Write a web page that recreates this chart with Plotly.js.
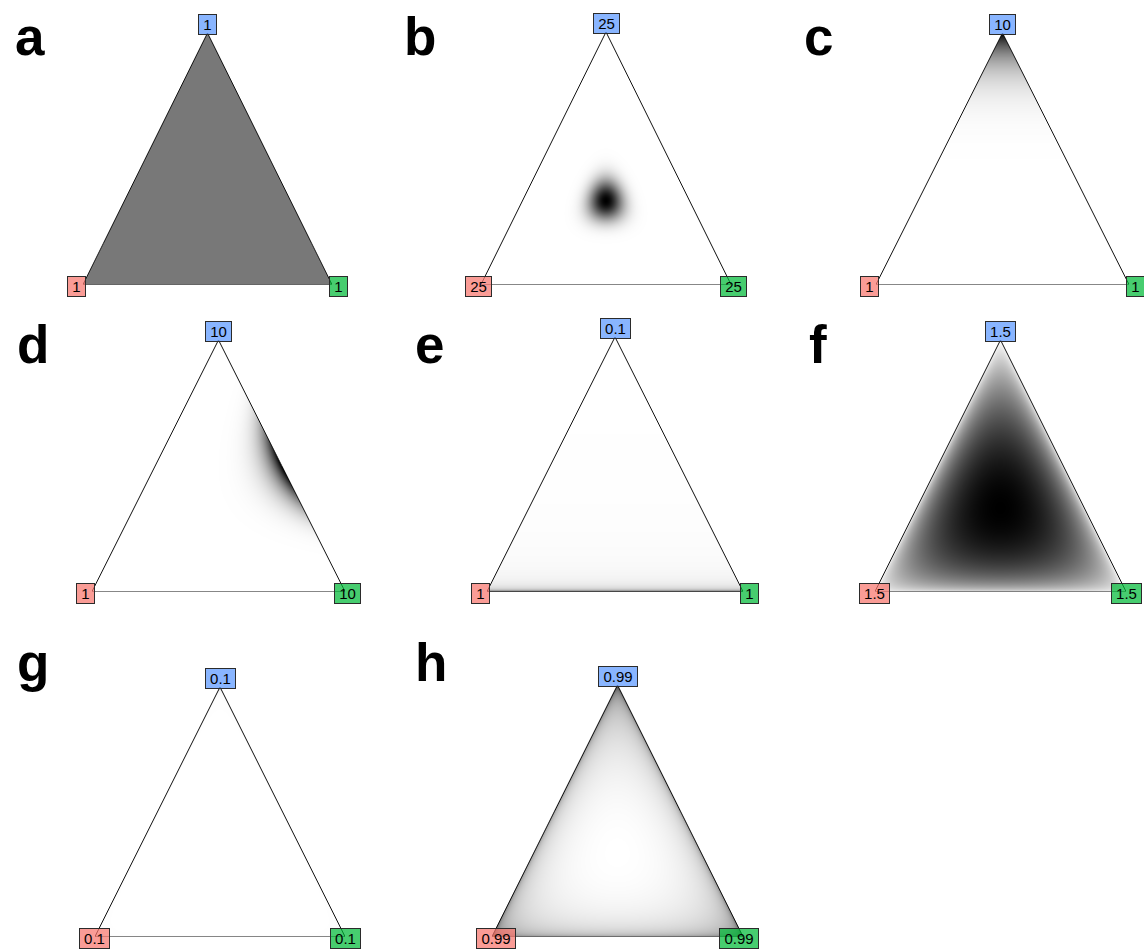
<!DOCTYPE html>
<html>
<head>
<meta charset="utf-8">
<script src="https://cdn.plot.ly/plotly-3.0.1.min.js"></script>
<style>
  html, body { margin: 0; padding: 0; background: #ffffff; }
  #chart { width: 1144px; height: 949px; }
</style>
</head>
<body>
<div id="chart"></div>
<script>
// Dirichlet densities on the 3-simplex, one panel per parameter set.
const panelLetters = ['a', 'b', 'c', 'd', 'e', 'f', 'g', 'h'];
const alphaLeft  = [1, 25, 1, 1, 1, 1.5, 0.1, 0.99];
const alphaRight = [1, 25, 1, 10, 1, 1.5, 0.1, 0.99];
const alphaTop   = [1, 25, 10, 10, 0.1, 1.5, 0.1, 0.99];

// Page geometry of each triangle (pixels): left/right vertex x, base y, apex y.
const W = 1144, H = 949;
const frames = [
  { l: 83,  r: 332,  b: 284.5, t: 33 },
  { l: 481, r: 731,  b: 284.5, t: 32 },
  { l: 876, r: 1129, b: 284.5, t: 33 },
  { l: 92,  r: 345,  b: 591.5, t: 340 },
  { l: 487, r: 743,  b: 591.5, t: 337 },
  { l: 875, r: 1126, b: 591.5, t: 340 },
  { l: 95,  r: 345,  b: 936.5, t: 687 },
  { l: 492, r: 743,  b: 936.5, t: 685 }
];
// Panel letter anchor points (pixels).
const letterPos = [
  [30, 37], [420, 37], [818, 37],
  [33, 344], [429, 344], [818, 344],
  [33, 662], [431, 662]
];

const LABEL_FONT = 'Liberation Sans, Arial, sans-serif';
const RED = 'rgba(248,118,109,0.72)';
const GREEN = 'rgba(0,186,56,0.72)';
const BLUE = 'rgba(97,156,255,0.75)';

// Log-gamma via Lanczos approximation.
function lgamma(z) {
  const g = 7;
  const c = [0.99999999999980993, 676.5203681218851, -1259.1392167224028,
    771.32342877765313, -176.61502916214059, 12.507343278686905,
    -0.13857109526572012, 9.9843695780195716e-6, 1.5056327351493116e-7];
  if (z < 0.5) return Math.log(Math.PI / Math.abs(Math.sin(Math.PI * z))) - lgamma(1 - z);
  z -= 1;
  let x = c[0];
  for (let i = 1; i < g + 2; i++) x += c[i] / (z + i);
  const t = z + g + 0.5;
  return 0.5 * Math.log(2 * Math.PI) + (z + 0.5) * Math.log(t) - t + Math.log(x);
}

function fmt(v) { return String(v); }

const measureCtx = document.createElement('canvas').getContext('2d');
measureCtx.font = '15px "Liberation Sans", Arial, sans-serif';
function textWidth(s) { return measureCtx.measureText(s).width; }

const data = [];
const annotations = [];
const layout = {
  width: W, height: H,
  margin: { l: 0, r: 0, t: 0, b: 0 },
  paper_bgcolor: '#ffffff',
  plot_bgcolor: 'rgba(0,0,0,0)',
  showlegend: false,
  annotations: annotations
};

panelLetters.forEach((letter, k) => {
  const f = frames[k];
  const aL = alphaLeft[k], aR = alphaRight[k], aT = alphaTop[k];
  const logNorm = lgamma(aL + aR + aT) - lgamma(aL) - lgamma(aR) - lgamma(aT);
  const nx = Math.round(f.r - f.l), ny = Math.round(f.b - f.t);
  const xs = [], ys = [], z = [];
  for (let i = 0; i < nx; i++) xs.push((i + 0.5) / nx);
  for (let j = 0; j < ny; j++) ys.push((j + 0.5) / ny);
  let zmin = Infinity, zmax = -Infinity;
  for (let j = 0; j < ny; j++) {
    const row = new Array(nx);
    const top = ys[j];
    for (let i = 0; i < nx; i++) {
      const right = xs[i] - top / 2;
      const left = 1 - right - top;
      if (right <= 0 || left <= 0) { row[i] = null; continue; }
      const d = Math.exp(logNorm + (aL - 1) * Math.log(left) +
        (aR - 1) * Math.log(right) + (aT - 1) * Math.log(top));
      row[i] = d;
      if (d < zmin) zmin = d;
      if (d > zmax) zmax = d;
    }
    z.push(row);
  }
  // A flat density has no spread to stretch, so it is shown in mid-gray.
  if (zmax - zmin < 1e-9 * zmax) { zmax = zmin / 0.53; zmin = 0; }

  const sfx = k === 0 ? '' : String(k + 1);
  const xa = 'x' + sfx, ya = 'y' + sfx;
  layout['xaxis' + sfx] = {
    domain: [f.l / W, f.r / W], range: [0, 1], visible: false,
    fixedrange: true, anchor: ya
  };
  layout['yaxis' + sfx] = {
    domain: [1 - f.b / H, 1 - f.t / H], range: [0, 1], visible: false,
    fixedrange: true, anchor: xa
  };

  data.push({
    type: 'heatmap', x: xs, y: ys, z: z, xaxis: xa, yaxis: ya,
    zmin: zmin, zmax: zmax, zsmooth: false, showscale: false,
    colorscale: [[0, '#ffffff'], [1, '#000000']], hoverinfo: 'skip'
  });
  data.push({
    type: 'scatter', mode: 'lines', x: [0, 1, 0.5, 0], y: [0, 0, 1, 0],
    xaxis: xa, yaxis: ya, line: { color: '#111111', width: 1 },
    cliponaxis: false, hoverinfo: 'skip'
  });

  const label = (txt, x, y, bg, xanchor, yanchor, xshift, yshift) => ({
    text: txt, x: x, y: y, xref: xa, yref: ya, showarrow: false,
    xanchor: xanchor, yanchor: yanchor, xshift: xshift, yshift: yshift,
    font: { family: LABEL_FONT, size: 15, color: '#000000' },
    bgcolor: bg, bordercolor: '#2b2b2b', borderwidth: 1, borderpad: 2,
    width: Math.ceil(textWidth(txt)) + 4, height: 15
  });
  annotations.push(label(fmt(aT), 0.5, 1, BLUE, 'center', 'bottom', 0, -2));
  annotations.push(label(fmt(aL), 0, 0, RED, 'left', 'middle', -16, -2));
  annotations.push(label(fmt(aR), 1, 0, GREEN, 'right', 'middle', 16, -2));

  annotations.push({
    text: '<b>' + letter + '</b>', xref: 'paper', yref: 'paper',
    x: letterPos[k][0] / W, y: 1 - letterPos[k][1] / H,
    xanchor: 'center', yanchor: 'middle', showarrow: false,
    font: { family: 'Liberation Sans, Arial, sans-serif', size: 53, color: '#000000' }
  });
});

Plotly.newPlot('chart', data, layout, { staticPlot: true, displayModeBar: false });
</script>
</body>
</html>
